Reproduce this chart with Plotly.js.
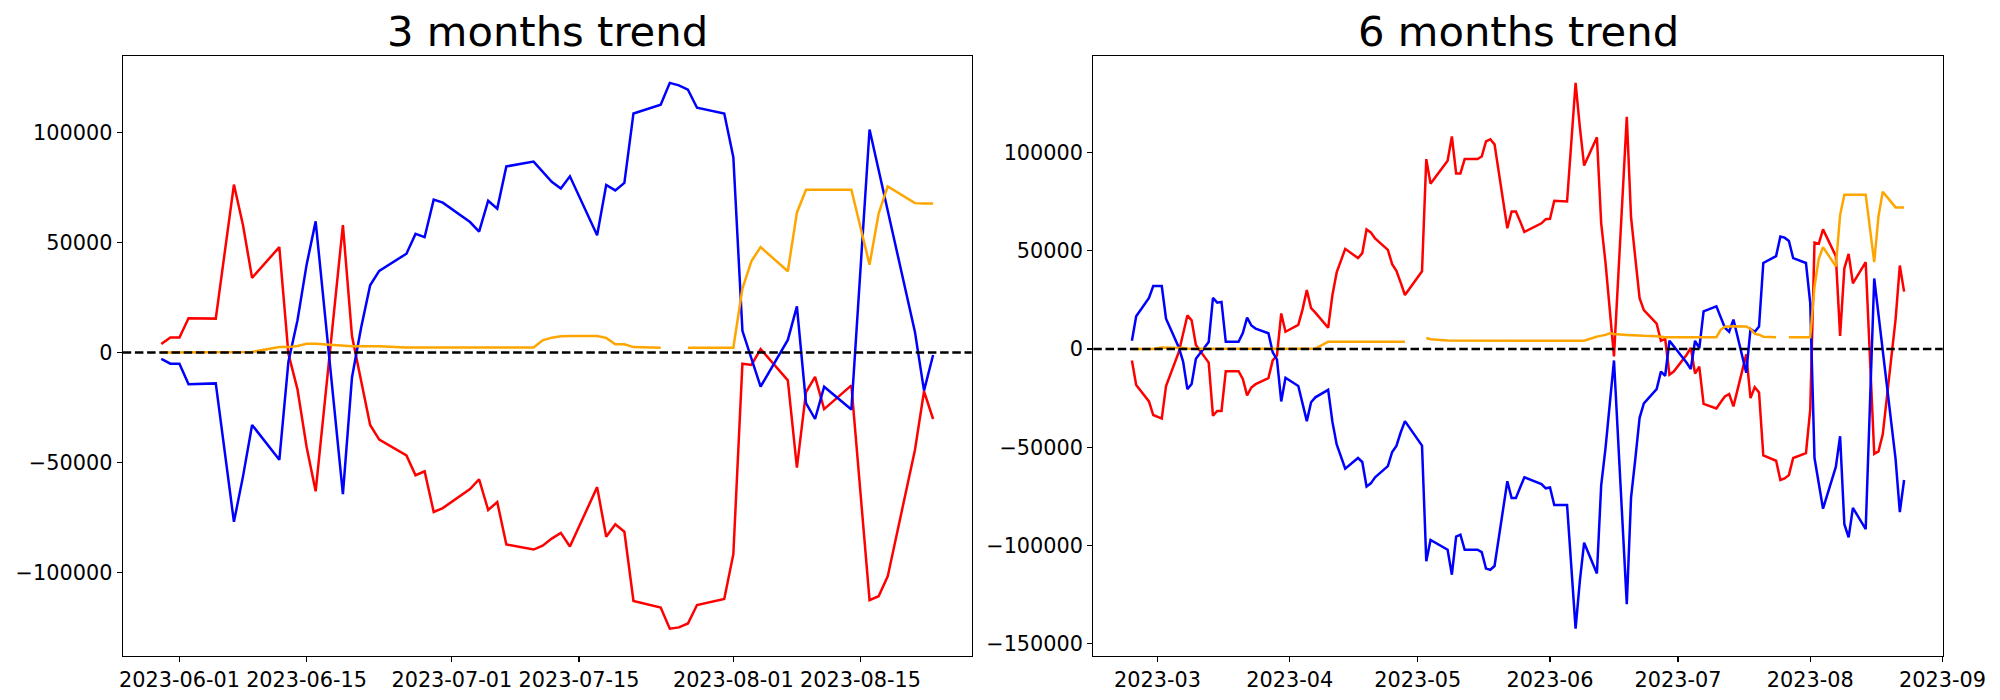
<!DOCTYPE html>
<html>
<head>
<meta charset="utf-8">
<script src="https://cdn.plot.ly/plotly-3.0.1.min.js"></script>
<style>
html, body { margin: 0; padding: 0; background: #ffffff; }
#chart { width: 2000px; height: 700px; }
</style>
</head>
<body>
<div id="chart"></div>
<script>
// ---------- 3 months trend ----------
const dates3m = ['2023-05-30','2023-05-31','2023-06-01','2023-06-02','2023-06-05','2023-06-07','2023-06-08','2023-06-09',
'2023-06-12','2023-06-13','2023-06-14','2023-06-15','2023-06-16','2023-06-19','2023-06-20','2023-06-21','2023-06-22','2023-06-23',
'2023-06-26','2023-06-27','2023-06-28','2023-06-29','2023-06-30','2023-07-03','2023-07-04','2023-07-05','2023-07-06','2023-07-07',
'2023-07-10','2023-07-11','2023-07-12','2023-07-13','2023-07-14','2023-07-17','2023-07-18','2023-07-19','2023-07-20','2023-07-21',
'2023-07-24','2023-07-25','2023-07-26','2023-07-27','2023-07-28','2023-07-31','2023-08-01','2023-08-02','2023-08-03','2023-08-04',
'2023-08-07','2023-08-08','2023-08-09','2023-08-10','2023-08-11','2023-08-14','2023-08-16','2023-08-17','2023-08-18','2023-08-21',
'2023-08-22','2023-08-23'];

const red3m = [3960,6840,6840,15650,15470,76450,57900,34000,
48000,-540,-16700,-42800,-63100,58000,7560,-13000,-32900,-39600,
-46800,-55800,-54000,-72500,-70700,-62100,-57600,-71600,-68000,-87250,
-89600,-87800,-84600,-82000,-88200,-61200,-83800,-78100,-81500,-113000,
-116000,-125600,-125000,-123200,-114800,-112100,-91700,-5040,-5580,1620,
-12600,-52300,-18000,-11000,-25700,-14900,-112600,-110800,-101800,-44300,
-17600,-30200];

const blue3m = [-2880,-5040,-5040,-14400,-14000,-77000,-56300,-32900,
-48750,-4100,14750,39900,59700,-64400,-11300,11150,30600,37200,
45000,54000,52500,69600,68200,59400,55000,69100,65500,84700,
86900,82200,77700,74700,80200,53400,76300,73800,77200,108800,
112800,122700,121600,119600,111400,108800,88900,9900,-2700,-15500,
5760,21000,-23000,-30200,-15500,-25900,101500,83100,64800,9350,
-17300,-1080];

const orange3m = [0,0,0,0,200,300,300,300,
2500,2500,3000,4000,4000,3000,2900,2900,2900,2900,
2300,2300,2300,2300,2300,2300,2300,2300,2300,2300,
2300,5600,6800,7400,7600,7600,6700,3800,3800,2500,
2200,null,null,2200,2200,2200,2200,29100,41700,48000,
37000,63700,74100,74100,74100,74100,40000,63300,75600,68000,
67800,67800];

const ticks3m = ['2023-06-01','2023-06-15','2023-07-01','2023-07-15','2023-08-01','2023-08-15'];

// ---------- 6 months trend ----------
const dates6m = ['2023-02-23','2023-02-24','2023-02-27','2023-02-28',
'2023-03-02','2023-03-03','2023-03-06','2023-03-07','2023-03-08','2023-03-09','2023-03-10','2023-03-13','2023-03-14','2023-03-15','2023-03-16','2023-03-17','2023-03-20','2023-03-21','2023-03-22','2023-03-23','2023-03-24','2023-03-27','2023-03-28','2023-03-29','2023-03-30','2023-03-31',
'2023-04-03','2023-04-04','2023-04-05','2023-04-06','2023-04-07','2023-04-10','2023-04-11','2023-04-12','2023-04-13','2023-04-14','2023-04-17','2023-04-18','2023-04-19','2023-04-20','2023-04-21','2023-04-24','2023-04-25','2023-04-26','2023-04-27','2023-04-28',
'2023-05-02','2023-05-03','2023-05-04','2023-05-08','2023-05-09','2023-05-10','2023-05-11','2023-05-12','2023-05-15','2023-05-16','2023-05-17','2023-05-18','2023-05-19','2023-05-22','2023-05-23','2023-05-24','2023-05-25','2023-05-26','2023-05-30','2023-05-31',
'2023-06-01','2023-06-02','2023-06-05','2023-06-07','2023-06-08','2023-06-09','2023-06-12','2023-06-13','2023-06-14','2023-06-15','2023-06-16','2023-06-19','2023-06-20','2023-06-21','2023-06-22','2023-06-23','2023-06-26','2023-06-27','2023-06-28','2023-06-29','2023-06-30',
'2023-07-03','2023-07-04','2023-07-05','2023-07-06','2023-07-07','2023-07-10','2023-07-11','2023-07-12','2023-07-13','2023-07-14','2023-07-17','2023-07-18','2023-07-19','2023-07-20','2023-07-21','2023-07-24','2023-07-25','2023-07-26','2023-07-27','2023-07-28','2023-07-31',
'2023-08-01','2023-08-02','2023-08-03','2023-08-04','2023-08-07','2023-08-08','2023-08-09','2023-08-10','2023-08-11','2023-08-14','2023-08-16','2023-08-17','2023-08-18','2023-08-21','2023-08-22','2023-08-23'];

const red6m = [-5840,-18350,-26700,-33600,
-35400,-18800,-1500,8000,17100,14600,2100,-6900,-34000,-31500,-31500,-11300,-11300,-15200,-23600,-19600,-17900,-14800,-5800,-3300,18100,8800,
12300,20200,30000,20800,18500,10800,27500,39000,45200,51000,46300,48800,60900,59400,56300,50500,43200,39800,33800,27500,
39600,96700,84200,95900,108200,89400,89400,96700,96700,98000,105700,106800,104200,61500,70000,70000,65000,59600,64000,66100,
66300,75500,75100,135500,113000,93400,107800,64000,44200,19200,-3750,118200,67100,46300,25900,19800,12900,4200,5200,-13100,-11500,
-3000,600,-12500,-9000,-27900,-30300,-27100,-24200,-22900,-29200,-2700,-25000,-19400,-22100,-54200,-56900,-66700,-65900,-64200,-55500,-53000,
-30900,54200,53600,60900,47300,6700,41100,48400,33400,44200,-53400,-52100,-43400,15000,42500,29200];

const blue6m = [4170,16700,26000,32100,
32100,15400,800,-6400,-20400,-17800,-5000,3600,26000,23600,24000,3700,3700,8100,16000,12000,10400,8000,-1700,-5300,-26700,-14600,
-18800,-27100,-36700,-27100,-24600,-20800,-37100,-48600,-54800,-60900,-55500,-57500,-70000,-68400,-65300,-59600,-52400,-49300,-42500,-36700,
-49200,-108000,-97200,-102200,-114900,-95500,-94500,-102200,-102200,-103400,-111800,-112400,-110500,-67300,-75900,-75900,-70500,-65300,-68800,-70900,
-70500,-79400,-79400,-142400,-118000,-98600,-114300,-69400,-50700,-26700,-5840,-129900,-75700,-55900,-35000,-27700,-20400,-11500,-13600,4200,1500,
-6900,-10200,4200,400,19200,21700,16100,10800,8800,15000,-12100,10200,8800,11500,43800,47300,57300,56700,55000,46300,43800,
23400,-55500,-68400,-81300,-60000,-44400,-89200,-95900,-80900,-91700,35900,17500,-800,-55900,-83000,-66700];

const orange6m = [0,0,0,0,
800,800,800,500,300,200,200,200,200,200,200,200,200,200,200,200,200,200,200,200,200,200,
200,200,200,200,200,3700,3700,3700,3700,3700,3700,3700,3700,3700,3700,3700,3700,3700,3700,3700,
null,5600,5000,4300,4300,4300,4300,4300,4300,4300,4300,4300,4300,4300,4300,4300,4300,4300,4300,4300,
4300,4300,4300,4300,4200,4200,6300,6600,7200,8000,7700,7200,7000,6900,6800,6700,6500,6200,6000,6000,6000,
6000,6000,6000,6000,6000,6000,9800,11300,11500,11600,11500,10200,7700,7300,6300,6000,null,null,6000,6000,6000,
6000,31700,45900,51900,42100,68200,78600,78600,78600,78600,44200,67600,80100,72100,72100,72100];

const ticks6m = ['2023-03-01','2023-04-01','2023-05-01','2023-06-01','2023-07-01','2023-08-01','2023-09-01'];

const titles = ['3 months trend', '6 months trend'];
const colors = { red: 'red', blue: 'blue', orange: 'orange' };

// ---------- helpers (autoscale like matplotlib: 5% margins) ----------
function fmtDate(ms) { return new Date(ms).toISOString().slice(0, 19).replace('T', ' '); }
function dateRange(dates) {
  const t = dates.map(d => Date.parse(d));
  const lo = Math.min(...t), hi = Math.max(...t), p = 0.05 * (hi - lo);
  return [fmtDate(lo - p), fmtDate(hi + p)];
}
function valRange(...series) {
  const v = [].concat(...series).filter(x => x !== null);
  const lo = Math.min(...v), hi = Math.max(...v), p = 0.05 * (hi - lo);
  return [lo - p, hi + p];
}

const W = 2000, H = 700;
const dom1 = [122.7 / W, 971.7 / W];
const dom2 = [1093.3 / W, 1942.7 / W];
const ydom = [1 - 656 / H, 1 - 55.6 / H];
const LW = 2.5;

function tr(x, y, color, xa, ya) {
  return { x: x, y: y, type: 'scatter', mode: 'lines', xaxis: xa, yaxis: ya,
    line: { color: color, width: LW }, connectgaps: false, hoverinfo: 'skip', showlegend: false };
}

const data = [
  tr(dates3m, red3m, colors.red, 'x', 'y'),
  tr(dates3m, blue3m, colors.blue, 'x', 'y'),
  tr(dates3m, orange3m, colors.orange, 'x', 'y'),
  tr(dates6m, red6m, colors.red, 'x2', 'y2'),
  tr(dates6m, blue6m, colors.blue, 'x2', 'y2'),
  tr(dates6m, orange6m, colors.orange, 'x2', 'y2')
];

const tickFont = { family: 'DejaVu Sans', size: 20.8, color: '#000000' };
function xax(dom, rng, ticks, fmt, anchor) {
  return { domain: dom, anchor: anchor, type: 'date', range: rng, tickmode: 'array', tickvals: ticks,
    tickformat: fmt, ticks: 'outside', ticklen: 5, tickwidth: 1.1, tickcolor: '#000',
    showline: true, mirror: true, linecolor: '#000', linewidth: 1.1, showgrid: false, zeroline: false,
    tickfont: tickFont, fixedrange: true };
}
function yax(rng, anchor) {
  return { domain: ydom, anchor: anchor, range: rng, tick0: 0, dtick: 50000, tickformat: 'd',
    ticks: 'outside', ticklen: 5, tickwidth: 1.1, tickcolor: '#000',
    showline: true, mirror: true, linecolor: '#000', linewidth: 1.1, showgrid: false, zeroline: false,
    tickfont: tickFont, fixedrange: true };
}

const layout = {
  width: W, height: H,
  margin: { l: 0, r: 0, t: 0, b: 0, pad: 0 },
  paper_bgcolor: '#ffffff', plot_bgcolor: '#ffffff',
  font: { family: 'DejaVu Sans', color: '#000000' },
  showlegend: false,
  xaxis: xax(dom1, dateRange(dates3m), ticks3m, '%Y-%m-%d', 'y'),
  yaxis: yax(valRange(red3m, blue3m, orange3m), 'x'),
  xaxis2: xax(dom2, dateRange(dates6m), ticks6m, '%Y-%m', 'y2'),
  yaxis2: yax(valRange(red6m, blue6m, orange6m), 'x2'),
  shapes: [
    { type: 'line', xref: 'x domain', yref: 'y', x0: 0, x1: 1, y0: 0, y1: 0,
      line: { color: '#000', width: LW, dash: '8.5px,3.7px' }, layer: 'above' },
    { type: 'line', xref: 'x2 domain', yref: 'y2', x0: 0, x1: 1, y0: 0, y1: 0,
      line: { color: '#000', width: LW, dash: '8.5px,3.7px' }, layer: 'above' }
  ],
  annotations: [
    { text: titles[0], xref: 'paper', yref: 'paper', x: (dom1[0] + dom1[1]) / 2, y: 1 - 32 / H,
      xanchor: 'center', yanchor: 'middle', showarrow: false, font: { family: 'DejaVu Sans', size: 41.7, color: '#000' } },
    { text: titles[1], xref: 'paper', yref: 'paper', x: (dom2[0] + dom2[1]) / 2, y: 1 - 32 / H,
      xanchor: 'center', yanchor: 'middle', showarrow: false, font: { family: 'DejaVu Sans', size: 41.7, color: '#000' } }
  ]
};

Plotly.newPlot('chart', data, layout, { staticPlot: true, displayModeBar: false });
</script>
</body>
</html>
